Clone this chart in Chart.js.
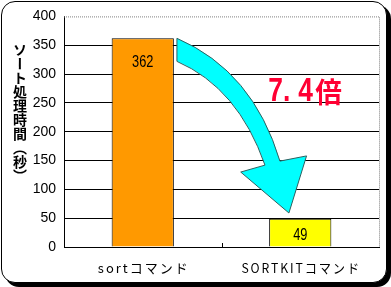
<!DOCTYPE html>
<html><head><meta charset="utf-8">
<script src="https://cdn.jsdelivr.net/npm/chart.js@4"></script>
<style>
html,body{margin:0;padding:0;background:#fff;}
#wrap{position:relative;width:391px;height:287px;overflow:hidden;}
#frame{position:absolute;left:1px;top:1px;width:386px;height:282px;box-sizing:border-box;border:1px solid #000;border-radius:14px;box-shadow:4px 4px 0 #000;background:#fff;}
#c{position:absolute;left:0;top:0;}
#ytitle{position:absolute;left:12px;top:43px;writing-mode:vertical-rl;font:bold 14px "Noto Sans CJK JP";line-height:16px;color:#000;}
</style></head>
<body><div id="wrap"><div id="frame"></div><canvas id="c" width="391" height="287"></canvas><div id="ytitle">ソート処理時間（秒）</div></div>
<script>
const categories = ['sortコマンド', 'SORTKITコマンド'];
const values = [362, 49];
const barColors = ['#FF9900', '#FFFF00'];
const yTicks = [0, 50, 100, 150, 200, 250, 300, 350, 400];
const ratioLabel = ['7.', '4', '倍'];
// arrow outline in data space: [category index, value]
const arrowOuter = [[0.217, 362], [0.70, 305], [0.871, 149]];
const arrowInner = [[0.217, 322], [0.605, 276], [0.776, 142]];
const arrowHead = [[0.622, 130], [0.928, 59], [1.04, 158]];

function narrowText(ctx, txt, cx, cy, sx) {
  ctx.save();
  ctx.translate(cx, cy);
  ctx.scale(sx, 1);
  ctx.fillText(txt, 0, 0);
  ctx.restore();
}

const deco = {
  id: 'deco',
  afterDraw(chart) {
    const {ctx, chartArea: a, scales: {x, y}} = chart;
    const P = p => [x.getPixelForValue(p[0]), y.getPixelForValue(p[1])];
    ctx.save();
    // dashed top & right border
    ctx.strokeStyle = '#808080'; ctx.lineWidth = 1; ctx.setLineDash([1, 1]);
    ctx.beginPath();
    ctx.moveTo(a.left, a.top + 0.5); ctx.lineTo(a.right + 0.5, a.top + 0.5); ctx.lineTo(a.right + 0.5, a.bottom);
    ctx.stroke();
    ctx.setLineDash([]);
    // inner tick marks between categories
    ctx.strokeStyle = '#000';
    for (let i = 0; i < categories.length - 1; i++) {
      const px = Math.round(x.getPixelForValue(i + 0.5)) + 0.5;
      ctx.beginPath(); ctx.moveTo(px, a.bottom); ctx.lineTo(px, a.bottom - 4); ctx.stroke();
    }
    // x labels
    ctx.fillStyle = '#000';
    ctx.textAlign = 'center'; ctx.textBaseline = 'middle';
    ctx.font = '13px "Noto Sans CJK JP"';
    ctx.letterSpacing = '2px';
    categories.forEach((c, i) => narrowText(ctx, c, x.getPixelForValue(i) + 1, a.bottom + 21, i === 0 ? 1 : 0.94));
    ctx.letterSpacing = '0px';
    // value labels
    ctx.font = '16px "Liberation Sans"';
    const meta = chart.getDatasetMeta(0);
    meta.data.forEach((bar, i) => {
      const h = bar.base - bar.y;
      const ly = h > 60 ? bar.y + 24 : (bar.y + bar.base) / 2 + 3;
      narrowText(ctx, String(values[i]), bar.x, ly, 0.8);
    });
    // arrow
    const o = arrowOuter.map(P), n = arrowInner.map(P), hd = arrowHead.map(P);
    ctx.beginPath();
    ctx.moveTo(...o[0]);
    ctx.quadraticCurveTo(...o[1], ...o[2]);
    ctx.lineTo(...hd[2]);
    ctx.lineTo(...hd[1]);
    ctx.lineTo(...hd[0]);
    ctx.lineTo(...n[2]);
    ctx.quadraticCurveTo(...n[1], ...n[0]);
    ctx.closePath();
    ctx.fillStyle = '#00FFFF'; ctx.fill();
    ctx.strokeStyle = '#2F5F5F'; ctx.lineWidth = 1; ctx.stroke();
    // ratio text
    ctx.fillStyle = '#FF0033';
    ctx.textAlign = 'left'; ctx.textBaseline = 'alphabetic';
    const tx = x.getPixelForValue(0.797), ty = y.getPixelForValue(253);
    ctx.font = 'bold 33px "Liberation Sans"';
    narrowText(ctx, ratioLabel[0], tx, ty, 0.8);
    narrowText(ctx, ratioLabel[1], tx + 30, ty, 0.8);
    ctx.font = 'bold 28px "Noto Sans CJK JP"';
    narrowText(ctx, ratioLabel[2], tx + 47, ty + 2, 0.95);
    ctx.restore();
  }
};

new Chart(document.getElementById('c'), {
  type: 'bar',
  data: {
    labels: categories,
    datasets: [{
      data: values,
      backgroundColor: barColors,
      borderColor: '#000',
      borderWidth: 1,
      barPercentage: 0.79,
      categoryPercentage: 0.5
    }]
  },
  options: {
    responsive: false,
    animation: false,
    devicePixelRatio: 1,
    layout: {padding: {left: 0, top: 16, right: 12, bottom: 0}},
    plugins: {legend: {display: false}, tooltip: {enabled: false}},
    scales: {
      x: {
        grid: {display: false},
        border: {color: '#000', width: 1},
        ticks: {display: false},
        afterFit: s => { s.height = 40; }
      },
      y: {
        min: 0, max: 400,
        afterBuildTicks: s => { s.ticks = yTicks.map(v => ({value: v})); },
        grid: {color: ctx => (ctx.tick && ctx.tick.value === 400) ? 'rgba(0,0,0,0)' : '#000', lineWidth: 1, drawTicks: false},
        border: {color: '#000', width: 1},
        ticks: {color: '#000', padding: 8, font: {family: 'Liberation Sans', size: 14}},
        afterFit: s => { s.width = 64; }
      }
    }
  },
  plugins: [deco]
});
</script></body></html>
